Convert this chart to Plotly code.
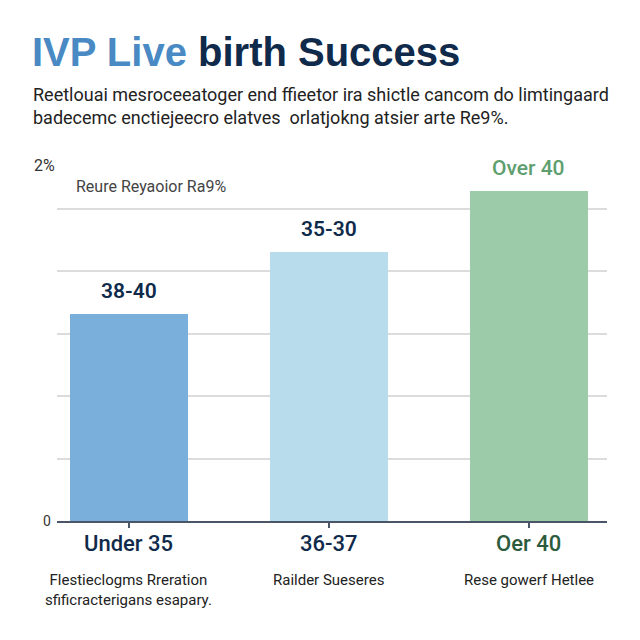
import plotly.graph_objects as go

categories = ["Under 35", "36-37", "Oer 40"]
sub_labels = ["Flestieclogms Rreration<br>sfificracterigans esapary.", "Railder Sueseres", "Rese gowerf Hetlee"]
bar_labels = ["38-40", "35-30", "Over 40"]
values = [33.2, 43.1, 52.9]
bar_colors = ["#7aafdc", "#b9dcec", "#9ccbaa"]
bar_label_colors = ["#0f2a4a", "#0f2a4a", "#5e9e6f"]
cat_colors = ["#0f2a4a", "#0f2a4a", "#2d5a3d"]

title_blue = "IVP Live"
title_dark = "birth Success"
subtitle = ("Reetlouai mesroceeatoger end ffieetor ira shictle cancom do limtingaard<br>"
            "badecemc enctiejeecro elatves  orlatjokng atsier arte Re9%.")
axis_note = "Reure Reyaoior Ra9%"
y_top_label = "2%"
y_zero_label = "0"

xpos = list(range(len(categories)))
FONT = "Liberation Sans, Arial, sans-serif"
FONT2 = "Roboto, Liberation Sans, sans-serif"

fig = go.Figure()
fig.add_trace(go.Bar(
    x=xpos, y=values, width=0.59,
    marker=dict(color=bar_colors, line=dict(width=0)),
    hoverinfo="skip",
))

annotations = []
for i, (v, lab, col) in enumerate(zip(values, bar_labels, bar_label_colors)):
    annotations.append(dict(x=xpos[i], y=v, xref="x", yref="y", text=lab,
                            showarrow=False, yanchor="bottom", yshift=9,
                            font=dict(size=21, color=col, family=FONT2, weight=600 if i < 2 else 500)))
for i, (c, s, col) in enumerate(zip(categories, sub_labels, cat_colors)):
    annotations.append(dict(x=xpos[i], y=-0.022, xref="x", yref="paper", text=c,
                            showarrow=False, yanchor="top",
                            font=dict(size=22, color=col, family=FONT2, weight=500)))
    annotations.append(dict(x=xpos[i], y=-0.135, xref="x", yref="paper", text=s,
                            showarrow=False, yanchor="top", align="center",
                            font=dict(size=15, color="#222222", family=FONT2)))

fig.update_layout(
    width=640, height=640,
    margin=dict(l=57, r=33, t=165, b=119),
    paper_bgcolor="white", plot_bgcolor="white",
    showlegend=False,
    bargap=0,
    xaxis=dict(range=[-0.3575, 2.3925], tickvals=xpos, showticklabels=False,
               ticks="outside", ticklen=5, tickwidth=1.5, tickcolor="#4a5568",
               showline=True, linecolor="#4a5568", linewidth=2, showgrid=False,
               zeroline=False, fixedrange=True),
    yaxis=dict(range=[0, 57], dtick=10, showticklabels=False, showgrid=True,
               gridcolor="#dcdcdc", gridwidth=1.5, zeroline=False, showline=False,
               fixedrange=True),
    annotations=annotations + [
        dict(x=-0.022, y=1.0, xref="paper", yref="paper", text=y_top_label,
             showarrow=False, xanchor="center", yanchor="middle",
             font=dict(size=16, color="#333333", family=FONT2)),
        dict(x=-0.008, y=0, xref="paper", yref="y", text=y_zero_label,
             showarrow=False, xanchor="right", yanchor="middle",
             font=dict(size=14, color="#333333", family=FONT2)),
        dict(x=0.031, y=0.94, xref="paper", yref="paper", text=axis_note,
             showarrow=False, xanchor="left", yanchor="middle",
             font=dict(size=16, color="#444444", family=FONT2)),
        dict(x=-0.05, y=1.317, xref="paper", yref="paper",
             text=f"<span style='color:#4a8ac4'>{title_blue}</span> {title_dark}",
             showarrow=False, xanchor="left", yanchor="middle",
             font=dict(size=40, color="#0f2a4a", family=FONT, weight="bold")),
        dict(x=-0.048, y=1.165, xref="paper", yref="paper", text=subtitle,
             showarrow=False, xanchor="left", yanchor="middle", align="left",
             font=dict(size=18, color="#222222", family=FONT2)),
    ],
)

fig.write_html("out.html")
